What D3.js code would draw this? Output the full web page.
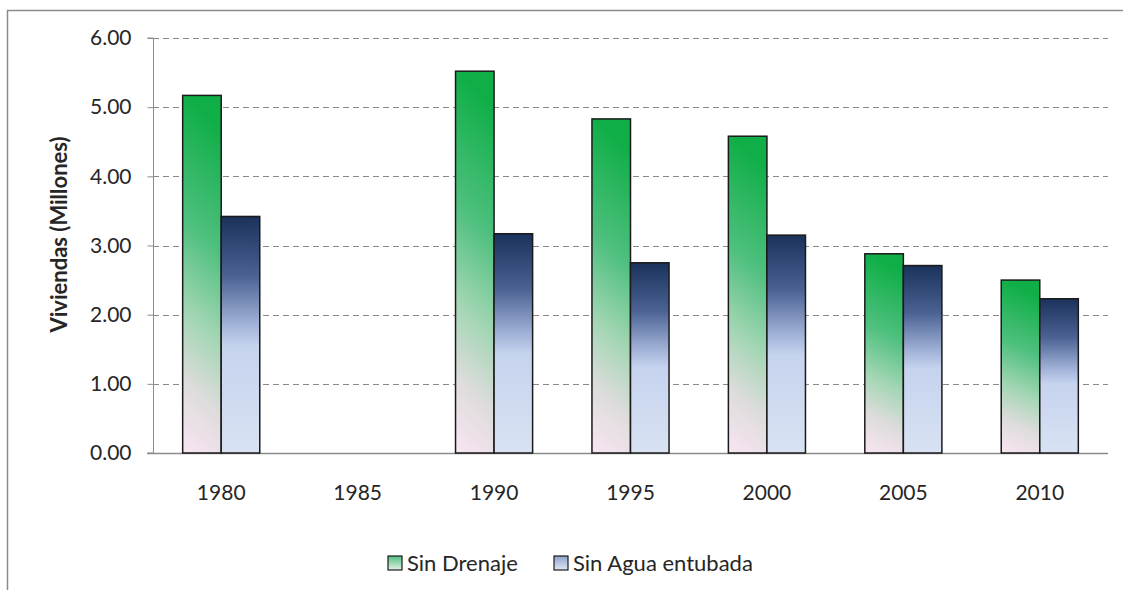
<!DOCTYPE html>
<html>
<head>
<meta charset="utf-8">
<script src="https://cdn.jsdelivr.net/npm/d3@7"></script>
<style>
  html, body { margin: 0; padding: 0; background: #fff; }
  svg { display: block; }
  text { font-family: Lato, "Open Sans", sans-serif; fill: #262626; }
</style>
</head>
<body>
<svg id="chart" width="1123" height="590"></svg>
<script>
const categories = ['1980', '1985', '1990', '1995', '2000', '2005', '2010'];
const sinDrenaje = [5.17, null, 5.52, 4.83, 4.58, 2.88, 2.50];
const sinAgua = [3.42, null, 3.17, 2.75, 3.15, 2.71, 2.23];
const seriesNames = ['Sin Drenaje', 'Sin Agua entubada'];
const yTicks = [0, 1, 2, 3, 4, 5, 6];
const yLabel = 'Viviendas (Millones)';

const svg = d3.select('#chart');
const W = 1123, H = 590;
const margin = { left: 153, right: 15, top: 38, bottom: 137 };

// gradients
const defs = svg.append('defs');
const gG = defs.append('linearGradient').attr('id', 'gGreen')
  .attr('x1', 0.1).attr('y1', 0).attr('x2', 0).attr('y2', 1);
[[0, '#0fae47'], [0.35, '#4fc07f'], [0.6, '#a3d6b4'], [0.8, '#dedcdc'], [1, '#f9e5f3']]
  .forEach(([o, c]) => gG.append('stop').attr('offset', o).attr('stop-color', c));
const gB = defs.append('linearGradient').attr('id', 'gBlue')
  .attr('x1', 0).attr('y1', 0).attr('x2', 0).attr('y2', 1);
[[0, '#1b325c'], [0.25, '#4a6192'], [0.45, '#9fb0d6'], [0.55, '#c6d3ee'], [1, '#d8e2f3']]
  .forEach(([o, c]) => gB.append('stop').attr('offset', o).attr('stop-color', c));
const gGl = defs.append('linearGradient').attr('id', 'gGreenL')
  .attr('x1', 0).attr('y1', 0).attr('x2', 0).attr('y2', 1);
[[0, '#4fc07f'], [1, '#e6f0e8']]
  .forEach(([o, c]) => gGl.append('stop').attr('offset', o).attr('stop-color', c));
const gBl = defs.append('linearGradient').attr('id', 'gBlueL')
  .attr('x1', 0).attr('y1', 0).attr('x2', 0).attr('y2', 1);
[[0, '#8fa2cc'], [1, '#e0e7f5']]
  .forEach(([o, c]) => gBl.append('stop').attr('offset', o).attr('stop-color', c));
const fills = ['url(#gGreen)', 'url(#gBlue)'];
const legendFills = ['url(#gGreenL)', 'url(#gBlueL)'];

// outer border
svg.append('rect').attr('x', 7.5).attr('y', 10.5).attr('width', W + 10).attr('height', H + 10)
  .attr('fill', 'none').attr('stroke', '#8c8c8c').attr('stroke-width', 1.5);

const x0 = d3.scaleBand().domain(categories)
  .range([margin.left, W - margin.right])
  .paddingInner(0.435).paddingOuter(0.2175);
const x1 = d3.scaleBand().domain(seriesNames).range([0, x0.bandwidth()]).padding(0);
const y = d3.scaleLinear().domain([0, 6]).range([H - margin.bottom, margin.top]);

// gridlines
svg.append('g').selectAll('line').data(yTicks.filter(d => d > 0)).join('line')
  .attr('x1', margin.left).attr('x2', W - margin.right)
  .attr('y1', d => Math.round(y(d)) + 0.5).attr('y2', d => Math.round(y(d)) + 0.5)
  .attr('stroke', '#8a8a8a').attr('stroke-width', 1.2).attr('stroke-dasharray', '6,4');

// y axis
const yAxis = d3.axisLeft(y).tickValues(yTicks).tickFormat(d3.format('.2f')).tickSize(6).tickPadding(16);
const gy = svg.append('g').attr('transform', `translate(${margin.left + 0.5},0)`).call(yAxis);
gy.select('.domain').attr('stroke', '#8c8c8c').attr('d', `M-6,${y(0)}H0V${y(6)}H-6`);
gy.selectAll('.tick line').attr('stroke', '#8c8c8c');
gy.selectAll('.tick text').style('font-size', '21px').attr('fill', '#262626')
  .style('font-family', 'Lato, "Open Sans", sans-serif');

// x axis
const xAxis = d3.axisBottom(x0).tickSize(0).tickPadding(32);
const gx = svg.append('g').attr('transform', `translate(0,${y(0) + 0.5})`).call(xAxis);
gx.select('.domain').attr('stroke', '#8c8c8c').attr('stroke-width', 1.5)
  .attr('d', `M${margin.left - 6},0H${W - margin.right}`);
gx.selectAll('.tick text').style('font-size', '21px').attr('fill', '#262626')
  .style('font-family', 'Lato, "Open Sans", sans-serif');

// bars
const rows = categories.map((c, i) => ({ cat: c, vals: [sinDrenaje[i], sinAgua[i]] }));
const groups = svg.append('g').selectAll('g').data(rows).join('g')
  .attr('transform', d => `translate(${x0(d.cat)},0)`);
groups.selectAll('rect')
  .data(d => d.vals.map((v, j) => ({ name: seriesNames[j], v, j })).filter(e => e.v != null))
  .join('rect')
  .attr('x', d => x1(d.name))
  .attr('width', x1.bandwidth())
  .attr('y', d => y(d.v))
  .attr('height', d => y(0) - y(d.v))
  .attr('fill', d => fills[d.j])
  .attr('stroke', '#1a1a1a').attr('stroke-width', 1.5);

// y label
svg.append('text')
  .attr('transform', `translate(58,${(y(0) + y(6)) / 2 - 11}) rotate(-90)`)
  .attr('text-anchor', 'middle').attr('dominant-baseline', 'central')
  .style('font-size', '22px').style('font-weight', 'bold').text(yLabel);

// legend
const legend = svg.append('g').attr('transform', 'translate(388,562)');
const legX = [0, 166];
seriesNames.forEach((n, i) => {
  const g = legend.append('g').attr('transform', `translate(${legX[i]},0)`);
  g.append('rect').attr('x', 0).attr('y', -6).attr('width', 14).attr('height', 14)
    .attr('fill', legendFills[i]).attr('stroke', '#1a1a1a').attr('stroke-width', 1.2);
  g.append('text').attr('x', 19).attr('y', 0).attr('dominant-baseline', 'central')
    .style('font-size', '22px').text(n);
});
</script>
</body>
</html>
